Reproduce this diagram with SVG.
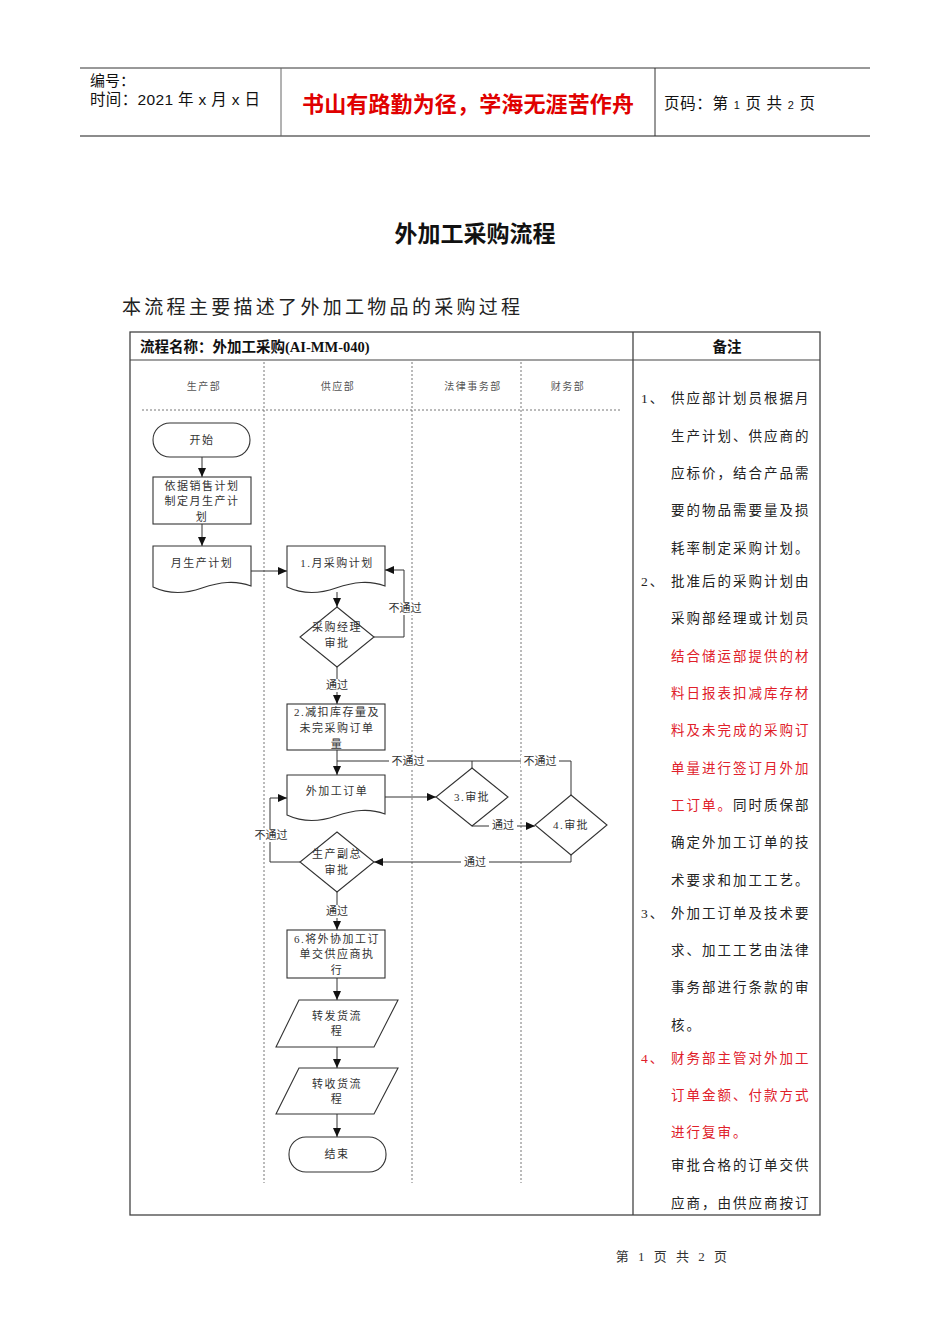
<svg xmlns="http://www.w3.org/2000/svg" width="950" height="1344" viewBox="0 0 950 1344">
<style>
.t{font-family:"Liberation Serif","Noto Sans CJK SC",serif;}
.s{font-family:"Liberation Sans","Noto Sans CJK SC",sans-serif;}
.node{fill:#fff;stroke:#333;stroke-width:1.1;}
.nt{font-family:"Liberation Serif","Noto Sans CJK SC",serif;font-size:11px;fill:#333;text-anchor:middle;letter-spacing:1.5px;}
.lane{font-family:"Liberation Serif","Noto Sans CJK SC",serif;font-size:10px;fill:#555;text-anchor:middle;letter-spacing:1.5px;}
.lbl{font-family:"Liberation Serif","Noto Sans CJK SC",serif;font-size:11px;fill:#333;text-anchor:middle;}
.conn{fill:none;stroke:#333;stroke-width:1;}
.dash{fill:none;stroke:#666;stroke-width:0.9;stroke-dasharray:2,2;}
.rm{font-family:"Liberation Serif","Noto Sans CJK SC",serif;font-size:13.5px;fill:#222;letter-spacing:2px;}
.red{fill:#e0202a;}
</style>
<defs>
<marker id="ah" markerWidth="9" markerHeight="8" refX="9" refY="4" orient="auto" markerUnits="userSpaceOnUse">
<path d="M0,0 L9,4 L0,8 Z" fill="#111"/>
</marker>
</defs>
<rect width="950" height="1344" fill="#fff"/>

<g id="header">
<line x1="80" y1="68" x2="870" y2="68" stroke="#333" stroke-width="1"/>
<line x1="80" y1="136" x2="870" y2="136" stroke="#666" stroke-width="1.5"/>
<line x1="281" y1="68" x2="281" y2="136" stroke="#666" stroke-width="1"/>
<line x1="655" y1="68" x2="655" y2="136" stroke="#333" stroke-width="1"/>
<text class="s" x="90" y="86" font-size="15" fill="#111">编号：</text>
<text class="s" x="90" y="105" font-size="15.5" fill="#111" textLength="170">时间：2021 年 x 月 x 日</text>
<text class="s" x="302" y="112" font-size="22" font-weight="bold" fill="#e00000" textLength="332">书山有路勤为径，学海无涯苦作舟</text>
<text class="s" x="664" y="109" font-size="15.5" fill="#111" textLength="151">页码：第 <tspan font-size="11">1</tspan> 页  共 <tspan font-size="11">2</tspan> 页</text>
</g>

<g id="title">
<text class="s" x="475" y="242" font-size="23" font-weight="bold" text-anchor="middle" fill="#111">外加工采购流程</text>
<text class="t" x="122" y="314" font-size="19" fill="#222" letter-spacing="3.3">本流程主要描述了外加工物品的采购过程</text>
</g>

<g id="table">
<rect x="130" y="332" width="690" height="883" fill="none" stroke="#444" stroke-width="1.3"/>
<line x1="130" y1="360" x2="820" y2="360" stroke="#444" stroke-width="1.2"/>
<line x1="633" y1="332" x2="633" y2="1215" stroke="#444" stroke-width="1.3"/>
<text class="t" x="140" y="352" font-size="14.5" font-weight="bold" fill="#111">流程名称：外加工采购(AI-MM-040)</text>
<text class="t" x="727" y="352" font-size="14.5" font-weight="bold" fill="#111" text-anchor="middle">备注</text>
</g>

<g id="lanes">
<line class="dash" x1="264" y1="362" x2="264" y2="1183"/>
<line class="dash" x1="412" y1="362" x2="412" y2="1183"/>
<line class="dash" x1="521" y1="362" x2="521" y2="1183"/>
<line class="dash" x1="142" y1="410" x2="622" y2="410"/>
<text class="lane" x="204" y="390">生产部</text>
<text class="lane" x="338" y="390">供应部</text>
<text class="lane" x="473" y="390">法律事务部</text>
<text class="lane" x="568" y="390">财务部</text>
</g>

<g id="connectors">
<path class="conn" d="M202,457 V477" marker-end="url(#ah)"/>
<path class="conn" d="M202,524 V546" marker-end="url(#ah)"/>
<path class="conn" d="M251,571 H287" marker-end="url(#ah)"/>
<path class="conn" d="M337,592 V607" marker-end="url(#ah)"/>
<path class="conn" d="M374,637 H404 V570 H385" marker-end="url(#ah)"/>
<path class="conn" d="M337,667 V704" marker-end="url(#ah)"/>
<path class="conn" d="M337,750 V775" marker-end="url(#ah)"/>
<path class="conn" d="M337,761 H571 V795"/>
<path class="conn" d="M472,761 V768"/>
<path class="conn" d="M385,797 H436" marker-end="url(#ah)"/>
<path class="conn" d="M472,826 H535" marker-end="url(#ah)"/>
<path class="conn" d="M571,855 V862 H374" marker-end="url(#ah)"/>
<path class="conn" d="M300,862 H270 V798 H287" marker-end="url(#ah)"/>
<path class="conn" d="M337,892 V930" marker-end="url(#ah)"/>
<path class="conn" d="M337,978 V1000" marker-end="url(#ah)"/>
<path class="conn" d="M337,1047 V1068" marker-end="url(#ah)"/>
<path class="conn" d="M337,1114 V1137" marker-end="url(#ah)"/>
<g>
<rect x="386" y="602" width="38" height="13" fill="#fff"/>
<text class="lbl" x="405" y="612">不通过</text>
<rect x="322" y="679" width="30" height="13" fill="#fff"/>
<text class="lbl" x="337" y="689">通过</text>
<rect x="389" y="755" width="38" height="13" fill="#fff"/>
<text class="lbl" x="408" y="765">不通过</text>
<rect x="521" y="755" width="38" height="13" fill="#fff"/>
<text class="lbl" x="540" y="765">不通过</text>
<rect x="489" y="819" width="28" height="13" fill="#fff"/>
<text class="lbl" x="503" y="829">通过</text>
<rect x="461" y="856" width="28" height="13" fill="#fff"/>
<text class="lbl" x="475" y="866">通过</text>
<rect x="252" y="829" width="38" height="13" fill="#fff"/>
<text class="lbl" x="271" y="839">不通过</text>
<rect x="322" y="905" width="30" height="13" fill="#fff"/>
<text class="lbl" x="337" y="915">通过</text>
</g>
</g>

<g id="n-start">
<rect class="node" x="153" y="423" width="97" height="34" rx="17"/>
<text class="nt" x="202" y="444">开始</text>
</g>
<g id="n-plan">
<rect class="node" x="153" y="477" width="98" height="47"/>
<text class="nt" x="202" y="490">依据销售计划</text>
<text class="nt" x="202" y="505">制定月生产计</text>
<text class="nt" x="202" y="521">划</text>
</g>
<g id="n-monthplan">
<path class="node" d="M153,546 H251 V586 C235,580 220,582 202,588 C185,594 168,594 153,587 Z"/>
<text class="nt" x="202" y="567">月生产计划</text>
</g>
<g id="n-purchaseplan">
<path class="node" d="M287,546 H385 V586 C369,580 354,582 336,588 C319,594 302,594 287,587 Z"/>
<text class="nt" x="337" y="567">1.月采购计划</text>
</g>
<g id="n-mgr">
<polygon class="node" points="337,607 374,637 337,667 300,637"/>
<text class="nt" x="337" y="631">采购经理</text>
<text class="nt" x="337" y="647">审批</text>
</g>
<g id="n-deduct">
<rect class="node" x="287" y="704" width="98" height="46"/>
<text class="nt" x="337" y="716">2.减扣库存量及</text>
<text class="nt" x="337" y="732">未完采购订单</text>
<text class="nt" x="337" y="748">量</text>
</g>
<g id="n-order">
<path class="node" d="M287,775 H385 V814 C369,808 354,810 336,816 C319,822 302,822 287,815 Z"/>
<text class="nt" x="337" y="795">外加工订单</text>
</g>
<g id="n-audit3">
<polygon class="node" points="472,768 508,797 472,826 436,797"/>
<text class="nt" x="472" y="801">3.审批</text>
</g>
<g id="n-audit4">
<polygon class="node" points="571,795 607,825 571,855 535,825"/>
<text class="nt" x="571" y="829">4.审批</text>
</g>
<g id="n-vp">
<polygon class="node" points="337,832 374,862 337,892 300,862"/>
<text class="nt" x="337" y="858">生产副总</text>
<text class="nt" x="337" y="874">审批</text>
</g>
<g id="n-deliver">
<rect class="node" x="287" y="930" width="98" height="48"/>
<text class="nt" x="337" y="943">6.将外协加工订</text>
<text class="nt" x="337" y="958">单交供应商执</text>
<text class="nt" x="337" y="974">行</text>
</g>
<g id="n-ship">
<polygon class="node" points="299,1000 398,1000 374,1047 276,1047"/>
<text class="nt" x="337" y="1020">转发货流</text>
<text class="nt" x="337" y="1035">程</text>
</g>
<g id="n-receive">
<polygon class="node" points="299,1068 398,1068 374,1114 276,1114"/>
<text class="nt" x="337" y="1088">转收货流</text>
<text class="nt" x="337" y="1103">程</text>
</g>
<g id="n-end">
<rect class="node" x="289" y="1137" width="97" height="35" rx="17"/>
<text class="nt" x="337" y="1158">结束</text>
</g>

<g id="remarks">
<text class="rm" x="641" y="403">1、</text>
<text class="rm" x="671" y="403">供应部计划员根据月</text>
<text class="rm" x="671" y="441">生产计划、供应商的</text>
<text class="rm" x="671" y="478">应标价，结合产品需</text>
<text class="rm" x="671" y="515">要的物品需要量及损</text>
<text class="rm" x="671" y="553">耗率制定采购计划。</text>
<text class="rm" x="641" y="586">2、</text>
<text class="rm" x="671" y="586">批准后的采购计划由</text>
<text class="rm" x="671" y="623">采购部经理或计划员</text>
<text class="rm red" x="671" y="661">结合储运部提供的材</text>
<text class="rm red" x="671" y="698">料日报表扣减库存材</text>
<text class="rm red" x="671" y="735">料及未完成的采购订</text>
<text class="rm red" x="671" y="773">单量进行签订月外加</text>
<text class="rm" x="671" y="810"><tspan class="red">工订单。</tspan>同时质保部</text>
<text class="rm" x="671" y="847">确定外加工订单的技</text>
<text class="rm" x="671" y="885">术要求和加工工艺。</text>
<text class="rm" x="641" y="918">3、</text>
<text class="rm" x="671" y="918">外加工订单及技术要</text>
<text class="rm" x="671" y="955">求、加工工艺由法律</text>
<text class="rm" x="671" y="992">事务部进行条款的审</text>
<text class="rm" x="671" y="1030">核。</text>
<text class="rm red" x="641" y="1063">4、</text>
<text class="rm red" x="671" y="1063">财务部主管对外加工</text>
<text class="rm red" x="671" y="1100">订单金额、付款方式</text>
<text class="rm red" x="671" y="1137">进行复审。</text>
<text class="rm" x="671" y="1170">审批合格的订单交供</text>
<text class="rm" x="671" y="1208">应商，由供应商按订</text>
</g>

<g id="footer">
<text class="t" x="673" y="1261" font-size="13" fill="#333" text-anchor="middle" letter-spacing="3">第 1 页 共 2 页</text>
</g>
</svg>
